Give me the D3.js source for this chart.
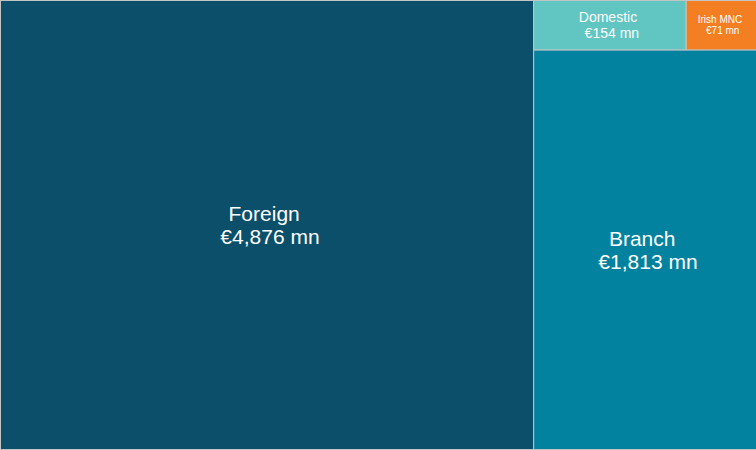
<!DOCTYPE html>
<html>
<head>
<meta charset="utf-8">
<script src="https://cdn.jsdelivr.net/npm/d3@7"></script>
<style>
  html, body { margin: 0; padding: 0; background: #ffffff; }
  svg { display: block; }
  text { font-family: "Liberation Sans", Arial, Helvetica, sans-serif; fill: #ffffff; }
</style>
</head>
<body>
<svg id="chart" width="756" height="450"></svg>
<script>
// ---- data ----
const categories = ["Foreign", "Branch", "Domestic", "Irish MNC"];
const values = [4876, 1813, 154, 71];              // € millions
const unitLabel = "mn";

// ---- styles (kept apart from the data) ----
const colors = {
  "Foreign": "#0b4f6a",
  "Branch": "#03829f",
  "Domestic": "#61c5c1",
  "Irish MNC": "#f47f22"
};
const fontSizes = { "Foreign": 21, "Branch": 21, "Domestic": 14, "Irish MNC": 10 };
const lineHeights = { "Foreign": 23, "Branch": 23, "Domestic": 16, "Irish MNC": 11 };

const W = 756, H = 450;
const val = c => values[categories.indexOf(c)];

// nested structure so slice/dice reproduces the reference layout
const tree = {
  name: "root",
  children: [
    { name: "Foreign", value: val("Foreign") },
    { name: "rest", children: [
      { name: "small", children: [
        { name: "Domestic", value: val("Domestic") },
        { name: "Irish MNC", value: val("Irish MNC") }
      ]},
      { name: "Branch", value: val("Branch") }
    ]}
  ]
};

const root = d3.hierarchy(tree).sum(d => d.value || 0);
d3.treemap().tile(d3.treemapSliceDice).size([W, H - 1]).paddingInner(0).round(false)(root);

const fmt = d3.format(",");
const svg = d3.select("#chart");
const g = svg.append("g").attr("transform", "translate(0.5,0.5)");

const leaves = root.leaves();

g.selectAll("rect")
  .data(leaves)
  .join("rect")
  .attr("x", d => d.x0)
  .attr("y", d => d.y0)
  .attr("width", d => d.x1 - d.x0)
  .attr("height", d => d.y1 - d.y0)
  .attr("fill", d => colors[d.data.name])
  .attr("stroke", "#c4c4c4")
  .attr("stroke-width", 1);

leaves.forEach(d => {
  const name = d.data.name;
  const fs = fontSizes[name];
  const lh = lineHeights[name];
  const cx = (d.x0 + d.x1) / 2;
  const cy = (d.y0 + d.y1) / 2;
  const lines = [name, "€" + fmt(d.value) + " " + unitLabel];
  const capH = 0.716 * fs;
  const b1 = cy - (lines.length - 1) * lh / 2 + capH / 2;
  const sp = 0.278 * fs / 2;   // half-space shift (trailing / leading space in label)
  const t = g.append("text")
    .attr("text-anchor", "middle")
    .style("font-size", fs + "px");
  lines.forEach((ln, i) => {
    t.append("tspan")
      .attr("x", cx + (i === 0 ? -sp : sp))
      .attr("y", b1 + i * lh)
      .text(ln);
  });
});
</script>
</body>
</html>
